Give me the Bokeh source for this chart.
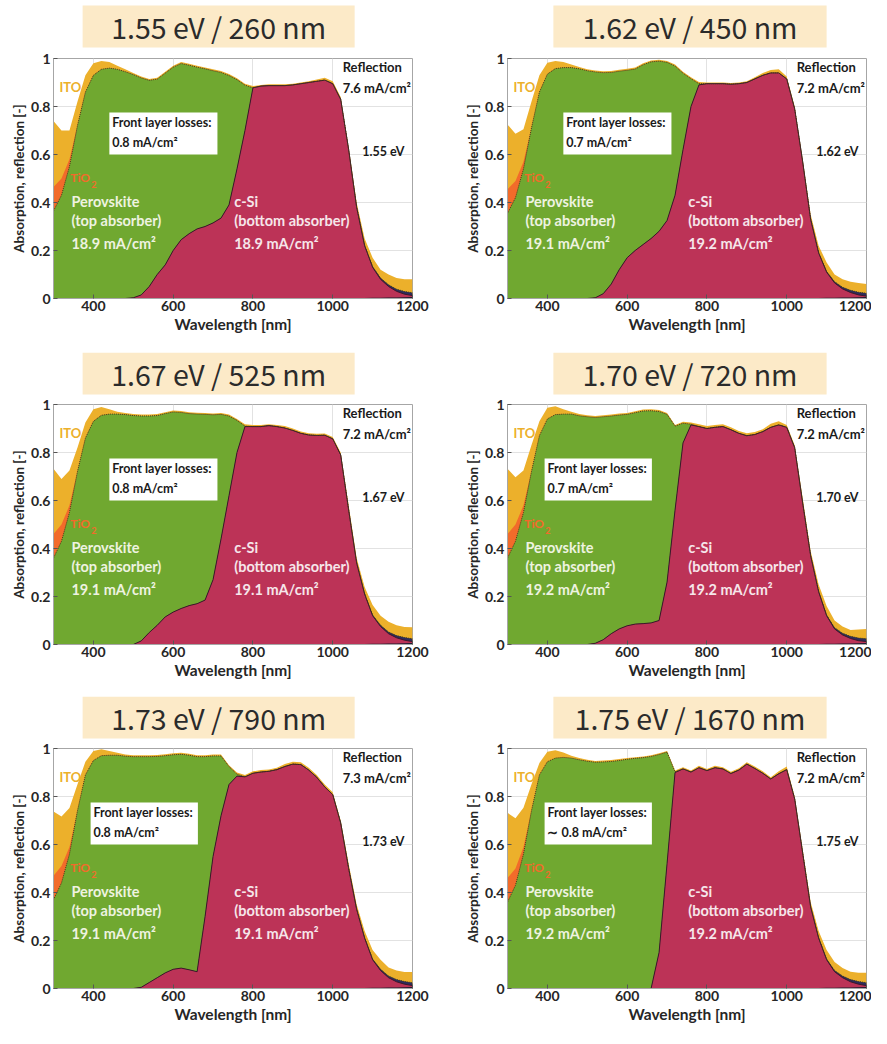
import numpy as np
from bokeh.plotting import figure
from bokeh.models import Range1d, FixedTicker, Label, BoxAnnotation
from bokeh.layouts import row, column
from bokeh.embed import file_html
from bokeh.resources import INLINE

# ---------------- data ----------------
wavelength = [300, 320, 340, 360, 380, 400, 420, 440, 460, 480, 500, 520, 540, 560, 580, 600,
              620, 640, 660, 680, 700, 720, 740, 760, 780, 800, 820, 840, 860, 880, 900, 920,
              940, 960, 980, 1000, 1020, 1040, 1060, 1080, 1100, 1120, 1140, 1160, 1180, 1200]

titles = ["1.55 eV / 260 nm", "1.62 eV / 450 nm", "1.67 eV / 525 nm",
          "1.70 eV / 720 nm", "1.73 eV / 790 nm", "1.75 eV / 1670 nm"]
gap_labels = ["1.55 eV", "1.62 eV", "1.67 eV", "1.70 eV", "1.73 eV", "1.75 eV"]
pero_jsc = ["18.9", "19.1", "19.1", "19.2", "19.1", "19.2"]
csi_jsc = ["18.9", "19.2", "19.1", "19.2", "19.1", "19.2"]
refl_jsc = ["7.6", "7.2", "7.2", "7.2", "7.3", "7.2"]
front_loss = ["0.8", "0.7", "0.8", "0.7", "0.8", "\u223c 0.8"]

# thin layers (absorptance thickness)
tio2_abs = [0.10, 0.07, 0.03] + [0.0] * 43
navy_abs = [0.0] * 38 + [0.001, 0.002, 0.003, 0.005, 0.007, 0.009, 0.011, 0.012]
rear_abs = [0.0] * 35 + [0.001, 0.001, 0.002, 0.002, 0.002, 0.003, 0.003, 0.004, 0.004, 0.005, 0.006]

# cumulative boundaries: c-Si top, perovskite top, total absorption (1 - R)
csi_155 = [0.0] * 10 + [0.003, 0.015, 0.05, 0.10, 0.14, 0.20, 0.245, 0.27, 0.29, 0.30,
                        0.315, 0.335, 0.39, 0.54, 0.70, 0.878, 0.885, 0.887, 0.887, 0.887,
                        0.89, 0.895, 0.90, 0.905, 0.91, 0.895, 0.83, 0.62, 0.38, 0.22,
                        0.13, 0.08, 0.05, 0.03, 0.018, 0.012]
pero_155 = [0.365, 0.43, 0.55, 0.72, 0.86, 0.93, 0.955, 0.96, 0.955, 0.945,
            0.933, 0.919, 0.909, 0.914, 0.939, 0.964, 0.979, 0.972, 0.964, 0.957,
            0.949, 0.942, 0.929, 0.912, 0.889, 0.878, 0.885, 0.887, 0.887, 0.887,
            0.89, 0.895, 0.90, 0.905, 0.91, 0.895, 0.83, 0.62, 0.38, 0.22,
            0.13, 0.08, 0.05, 0.03, 0.018, 0.012]
total_155 = [0.74, 0.70, 0.70, 0.82, 0.93, 0.98, 0.99, 0.985, 0.97, 0.955,
             0.94, 0.925, 0.915, 0.92, 0.945, 0.97, 0.985, 0.978, 0.97, 0.963,
             0.955, 0.948, 0.935, 0.918, 0.895, 0.885, 0.89, 0.893, 0.893, 0.893,
             0.895, 0.90, 0.905, 0.913, 0.92, 0.905, 0.84, 0.63, 0.40, 0.25,
             0.17, 0.12, 0.10, 0.085, 0.08, 0.08]

csi_162 = [0.0] * 11 + [0.003, 0.02, 0.06, 0.12, 0.17, 0.20, 0.225, 0.25, 0.28,
                        0.325, 0.43, 0.62, 0.80, 0.89, 0.895, 0.895, 0.895, 0.893, 0.895,
                        0.90, 0.915, 0.93, 0.94, 0.94, 0.915, 0.79, 0.57, 0.33, 0.19,
                        0.11, 0.065, 0.04, 0.025, 0.015, 0.01]
pero_162 = [0.355, 0.42, 0.54, 0.71, 0.86, 0.935, 0.958, 0.962, 0.962, 0.957,
            0.949, 0.944, 0.941, 0.942, 0.947, 0.951, 0.956, 0.974, 0.986, 0.989,
            0.984, 0.969, 0.939, 0.916, 0.895, 0.895, 0.895, 0.895, 0.893, 0.895,
            0.90, 0.915, 0.93, 0.94, 0.94, 0.915, 0.79, 0.57, 0.33, 0.19,
            0.11, 0.065, 0.04, 0.025, 0.015, 0.01]
total_162 = [0.725, 0.686, 0.705, 0.82, 0.93, 0.982, 0.99, 0.985, 0.975, 0.965,
             0.955, 0.95, 0.947, 0.948, 0.953, 0.957, 0.962, 0.98, 0.992, 0.995,
             0.99, 0.975, 0.945, 0.922, 0.902, 0.90, 0.90, 0.90, 0.898, 0.90,
             0.905, 0.922, 0.94, 0.952, 0.955, 0.925, 0.80, 0.58, 0.35, 0.22,
             0.15, 0.10, 0.08, 0.07, 0.065, 0.06]

csi_167 = [0.0] * 11 + [0.015, 0.05, 0.08, 0.115, 0.135, 0.15, 0.162, 0.17, 0.185,
                        0.27, 0.44, 0.62, 0.80, 0.908, 0.908, 0.908, 0.912, 0.908, 0.902,
                        0.892, 0.88, 0.873, 0.871, 0.872, 0.857, 0.79, 0.56, 0.34, 0.21,
                        0.12, 0.075, 0.045, 0.028, 0.018, 0.012]
pero_167 = [0.36, 0.43, 0.55, 0.72, 0.86, 0.93, 0.955, 0.96, 0.96, 0.958,
            0.954, 0.952, 0.952, 0.954, 0.962, 0.969, 0.967, 0.962, 0.96, 0.959,
            0.957, 0.959, 0.952, 0.934, 0.91, 0.908, 0.908, 0.912, 0.908, 0.902,
            0.892, 0.88, 0.873, 0.871, 0.872, 0.857, 0.79, 0.56, 0.34, 0.21,
            0.12, 0.075, 0.045, 0.028, 0.018, 0.012]
total_167 = [0.732, 0.69, 0.725, 0.82, 0.925, 0.98, 0.99, 0.98, 0.97, 0.965,
             0.96, 0.958, 0.958, 0.96, 0.968, 0.975, 0.973, 0.968, 0.966, 0.965,
             0.963, 0.965, 0.958, 0.94, 0.918, 0.915, 0.915, 0.918, 0.915, 0.91,
             0.90, 0.887, 0.88, 0.878, 0.879, 0.865, 0.80, 0.58, 0.36, 0.24,
             0.165, 0.12, 0.095, 0.08, 0.073, 0.072]

csi_170 = [0.0] * 11 + [0.005, 0.02, 0.045, 0.065, 0.078, 0.085, 0.087, 0.09, 0.10,
                        0.26, 0.56, 0.84, 0.915, 0.908, 0.90, 0.905, 0.908, 0.895, 0.88,
                        0.87, 0.875, 0.887, 0.905, 0.915, 0.905, 0.82, 0.59, 0.37, 0.22,
                        0.12, 0.065, 0.04, 0.025, 0.016, 0.012]
pero_170 = [0.36, 0.43, 0.55, 0.72, 0.87, 0.94, 0.958, 0.96, 0.96, 0.953,
            0.949, 0.946, 0.949, 0.952, 0.956, 0.959, 0.966, 0.973, 0.974, 0.971,
            0.959, 0.91, 0.922, 0.918, 0.908, 0.90, 0.905, 0.908, 0.895, 0.88,
            0.87, 0.875, 0.887, 0.905, 0.915, 0.905, 0.82, 0.59, 0.37, 0.22,
            0.12, 0.065, 0.04, 0.025, 0.016, 0.012]
total_170 = [0.732, 0.697, 0.725, 0.83, 0.93, 0.986, 0.993, 0.98, 0.97, 0.96,
             0.955, 0.952, 0.955, 0.958, 0.962, 0.965, 0.972, 0.979, 0.98, 0.977,
             0.965, 0.915, 0.928, 0.925, 0.918, 0.91, 0.915, 0.918, 0.905, 0.89,
             0.88, 0.885, 0.897, 0.92, 0.93, 0.915, 0.83, 0.61, 0.39, 0.25,
             0.16, 0.10, 0.075, 0.06, 0.062, 0.065]

csi_173 = [0.0] * 11 + [0.005, 0.025, 0.045, 0.065, 0.08, 0.085, 0.078, 0.07, 0.30,
                        0.55, 0.72, 0.85, 0.885, 0.882, 0.897, 0.902, 0.905, 0.912, 0.925,
                        0.935, 0.933, 0.91, 0.88, 0.84, 0.808, 0.69, 0.50, 0.33, 0.21,
                        0.12, 0.075, 0.045, 0.028, 0.018, 0.012]
pero_173 = [0.37, 0.44, 0.56, 0.74, 0.89, 0.95, 0.97, 0.972, 0.972, 0.968,
            0.966, 0.966, 0.966, 0.967, 0.97, 0.974, 0.976, 0.972, 0.966, 0.966,
            0.969, 0.969, 0.925, 0.893, 0.882, 0.897, 0.902, 0.905, 0.912, 0.925,
            0.935, 0.933, 0.91, 0.88, 0.84, 0.808, 0.69, 0.50, 0.33, 0.21,
            0.12, 0.075, 0.045, 0.028, 0.018, 0.012]
total_173 = [0.738, 0.717, 0.752, 0.85, 0.945, 0.99, 0.997, 0.99, 0.982, 0.975,
             0.972, 0.972, 0.972, 0.973, 0.976, 0.98, 0.982, 0.978, 0.972, 0.972,
             0.975, 0.975, 0.93, 0.90, 0.89, 0.905, 0.91, 0.912, 0.92, 0.935,
             0.945, 0.943, 0.92, 0.89, 0.85, 0.818, 0.70, 0.52, 0.35, 0.24,
             0.16, 0.12, 0.088, 0.075, 0.069, 0.069]

csi_175 = [0.0] * 18 + [0.0, 0.15, 0.52, 0.90, 0.915, 0.902, 0.92, 0.908, 0.92, 0.915,
                        0.896, 0.91, 0.935, 0.917, 0.897, 0.873, 0.895, 0.912, 0.79, 0.565,
                        0.34, 0.21, 0.12, 0.07, 0.045, 0.028, 0.018, 0.012]
pero_175 = [0.36, 0.43, 0.56, 0.74, 0.89, 0.945, 0.96, 0.963, 0.96, 0.953,
            0.947, 0.943, 0.944, 0.946, 0.95, 0.955, 0.959, 0.962, 0.967, 0.975,
            0.985, 0.903, 0.915, 0.902, 0.92, 0.908, 0.92, 0.915, 0.896, 0.91,
            0.935, 0.917, 0.897, 0.873, 0.895, 0.912, 0.79, 0.565, 0.34, 0.21,
            0.12, 0.07, 0.045, 0.028, 0.018, 0.012]
total_175 = [0.732, 0.709, 0.753, 0.85, 0.94, 0.986, 0.993, 0.983, 0.97, 0.96,
             0.953, 0.948, 0.95, 0.952, 0.956, 0.96, 0.964, 0.967, 0.972, 0.98,
             0.99, 0.908, 0.922, 0.908, 0.928, 0.915, 0.928, 0.922, 0.903, 0.918,
             0.943, 0.925, 0.905, 0.88, 0.905, 0.925, 0.80, 0.58, 0.36, 0.24,
             0.16, 0.11, 0.085, 0.07, 0.066, 0.066]

csi_tops = [csi_155, csi_162, csi_167, csi_170, csi_173, csi_175]
pero_tops = [pero_155, pero_162, pero_167, pero_170, pero_173, pero_175]
total_tops = [total_155, total_162, total_167, total_170, total_173, total_175]

# ---------------- style ----------------
FONT = "Lato"
C_ITO = "#ECB02B"
C_TIO2 = "#F26B2A"
C_PERO = "#70A830"
C_NAVY = "#2C2B5E"
C_CSI = "#BC3357"
C_REAR = "#1B1B2F"
T_PERO = "#EEF3E0"
T_CSI = "#F6E6EA"
T_DARK = "#1A1A1A"

FRAME_W, FRAME_H = 359, 240
BORDER_L = 53
BORDER_TOP = 9


def make_title(txt, border_r, height, box_top_gap, box_l, box_r):
    t = figure(frame_width=FRAME_W, frame_height=height,
               x_range=Range1d(300, 1200), y_range=Range1d(0, height),
               x_axis_type=None, y_axis_type=None, toolbar_location=None, output_backend="svg",
               min_border_left=BORDER_L, min_border_right=border_r,
               min_border_top=0, min_border_bottom=0, outline_line_color=None)
    top = height - box_top_gap
    bot = top - 42
    t.add_layout(BoxAnnotation(left=box_l, right=box_r, bottom=bot, top=top,
                               fill_color="#FCEAC8", fill_alpha=1.0, line_color=None))
    t.add_layout(Label(x=(box_l + box_r) / 2, y=(top + bot) / 2, text=txt, text_align="center",
                       text_baseline="middle", text_font="Noto Sans CJK JP", text_font_size="28.5px",
                       text_color="#2B2B2B"))
    return t


def lab(p, x, y, text, color, size="13px", align="left", x_off=0, y_off=0):
    p.add_layout(Label(x=x, y=y, text=text, text_color=color, text_font=FONT,
                       text_font_style="bold", text_font_size=size, text_align=align,
                       text_baseline="middle", x_offset=x_off, y_offset=y_off))


def make_panel(i, border_right, border_bottom):
    wl = np.array(wavelength, dtype=float)
    csi = np.array(csi_tops[i], dtype=float)
    rear_t = np.array(rear_abs, dtype=float)
    navy_t = csi + np.array(navy_abs, dtype=float)
    pero_t = np.maximum(np.array(pero_tops[i], dtype=float), navy_t)
    tio2_t = pero_t + np.array(tio2_abs, dtype=float)
    total_t = np.maximum(np.array(total_tops[i], dtype=float), tio2_t)

    p = figure(frame_width=FRAME_W, frame_height=FRAME_H,
               x_range=Range1d(300, 1200), y_range=Range1d(0, 1),
               toolbar_location=None, output_backend="svg",
               min_border_left=BORDER_L, min_border_right=border_right,
               min_border_top=BORDER_TOP, min_border_bottom=border_bottom,
               outline_line_color="#A6A6A6", background_fill_color="white")

    zero = np.zeros_like(wl)
    for top, col in [(total_t, C_ITO), (tio2_t, C_TIO2), (pero_t, C_PERO),
                     (navy_t, C_NAVY), (csi, C_CSI), (rear_t, C_REAR)]:
        p.varea(x=wl, y1=zero, y2=top, fill_color=col)
    p.line(wl, csi, line_color="#3A1A28", line_width=1.0)
    p.line(wl, pero_t, line_color="#4A3C1C", line_width=1.0, line_dash="1 1")

    # axes
    p.xaxis.ticker = FixedTicker(ticks=[400, 600, 800, 1000, 1200])
    p.yaxis.ticker = FixedTicker(ticks=[0, 0.2, 0.4, 0.6, 0.8, 1])
    p.yaxis.major_label_overrides = {0: "0", 1: "1"}
    p.xaxis.axis_label = "Wavelength [nm]"
    p.yaxis.axis_label = "Absorption, reflection [-]"
    for ax in (p.xaxis, p.yaxis):
        ax.axis_label_text_font = FONT
        ax.axis_label_text_font_style = "bold"
        ax.axis_label_text_color = "#262626"
        ax.major_label_text_font = FONT
        ax.major_label_text_font_style = "bold"
        ax.major_label_text_font_size = "14px"
        ax.major_label_text_color = "#262626"
        ax.axis_line_color = "#A6A6A6"
        ax.major_tick_line_color = "#555555"
        ax.major_tick_in = 4
        ax.major_tick_out = 0
        ax.minor_tick_line_color = None
    p.xaxis.axis_label_text_font_size = "15.5px"
    p.yaxis.axis_label_text_font_size = "13.5px"
    p.xaxis.major_label_standoff = 2
    p.xaxis.axis_label_standoff = 1
    p.yaxis.major_label_standoff = 3
    p.yaxis.axis_label_standoff = 1
    p.xgrid.ticker = FixedTicker(ticks=[400, 600, 800, 1000])
    p.ygrid.ticker = FixedTicker(ticks=[0.2, 0.4, 0.6, 0.8])
    p.grid.grid_line_color = "#E2E2E2"

    # annotations
    lab(p, 315, 0.883, "ITO", C_ITO, "13px")
    lab(p, 342, 0.505, "TiO", C_TIO2, "12px")
    lab(p, 342, 0.505, "2", C_TIO2, "9px", x_off=21, y_off=-7)
    lab(p, 345, 0.404, "Perovskite", T_PERO, "14.5px")
    lab(p, 345, 0.324, "(top absorber)", T_PERO, "14.5px")
    lab(p, 345, 0.231, pero_jsc[i] + " mA/cm\u00b2", T_PERO, "14.5px")
    lab(p, 753, 0.404, "c-Si", T_CSI, "14.5px")
    lab(p, 753, 0.324, "(bottom absorber)", T_CSI, "14.5px")
    lab(p, 753, 0.231, csi_jsc[i] + " mA/cm\u00b2", T_CSI, "14.5px")

    if i < 3:
        bl, br, tx = 440, 711, 447
    else:
        bl, br, tx = 393, 662, 400
    p.add_layout(BoxAnnotation(left=bl, right=br, bottom=0.60, top=0.775,
                               fill_color="white", fill_alpha=1.0, line_color=None))
    lab(p, tx, 0.734, "Front layer losses:", T_DARK, "12.5px")
    lab(p, tx, 0.652, front_loss[i] + " mA/cm\u00b2", T_DARK, "12.5px")

    lab(p, 1025, 0.965, "Reflection", T_DARK, "13px")
    lab(p, 1025, 0.878, refl_jsc[i] + " mA/cm\u00b2", T_DARK, "13px")
    lab(p, 1074, 0.613, gap_labels[i], T_DARK, "12.5px")
    return p


BORDER_R_LEFT = 42
BORDER_R_RIGHT = 5
# (title height, gap above title box, plot bottom border) per row
row_specs = [(49, 5, 54), (43, 0, 52), (43, 0, 40)]

rows = []
for r, (th, gap, bottom) in enumerate(row_specs):
    li, ri = 2 * r, 2 * r + 1
    left_col = column(make_title(titles[li], BORDER_R_LEFT, th, gap, 373, 1055),
                      make_panel(li, BORDER_R_LEFT, bottom))
    right_col = column(make_title(titles[ri], BORDER_R_RIGHT, th, gap, 415, 1100),
                       make_panel(ri, BORDER_R_RIGHT, bottom))
    rows.append(row(left_col, right_col))

layout = column(*rows)

with open("out.html", "w", encoding="utf-8") as f:
    f.write(file_html(layout, INLINE))
